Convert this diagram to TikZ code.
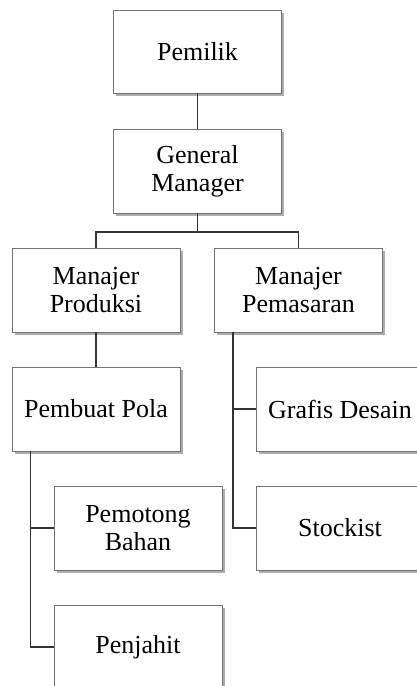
\documentclass[tikz,border=0pt]{standalone}
\usepackage{fontspec}
\setmainfont{Liberation Serif}
\usetikzlibrary{shadows}
\tikzset{
  orgbox/.style={draw=black!55, line width=0.9pt, fill=white, inner sep=0pt,
    align=center, minimum width=168pt, minimum height=84pt,
    font=\fontsize{26}{28}\selectfont,
    drop shadow={shadow xshift=2.5pt, shadow yshift=-2.5pt, fill=black!40, opacity=0.8}},
  link/.style={draw=black!80, line width=1.2pt}
}
\begin{document}
\begin{tikzpicture}[x=1pt,y=-1pt]
\useasboundingbox (0,0) rectangle (417,686);
\clip (0,0) rectangle (417,686);
\node[orgbox, minimum height=83pt] (PM) at (197.5,51.5) {Pemilik};
\node[orgbox] (GM) at (197.5,171) {General\\Manager};
\node[orgbox] (MP) at (96,290) {Manajer\\Produksi};
\node[orgbox] (MS) at (298.5,290) {Manajer\\Pemasaran};
\node[orgbox] (PP) at (96,409) {Pembuat Pola};
\node[orgbox] (GD) at (340,409) {Grafis Desain};
\node[orgbox] (ST) at (340,528) {Stockist};
\node[orgbox] (PB) at (138,528) {Pemotong\\Bahan};
\node[orgbox] (PJ) at (138,647) {Penjahit};
\coordinate (bus) at (197.5,232);
\draw[link] (PM.south) -- (GM.north);
\draw[link] (GM.south) -- (bus);
\draw[link] (MP.north) |- (bus) -| (MS.north);
\draw[link] (MP.south) -- (PP.north);
\draw[link] ([xshift=19pt]MS.south west) |- (GD.west);
\draw[link] ([xshift=19pt]MS.south west) |- (ST.west);
\draw[link] ([xshift=19pt]PP.south west) |- (PB.west);
\draw[link] ([xshift=19pt]PP.south west) |- (PJ.west);
\end{tikzpicture}
\end{document}
